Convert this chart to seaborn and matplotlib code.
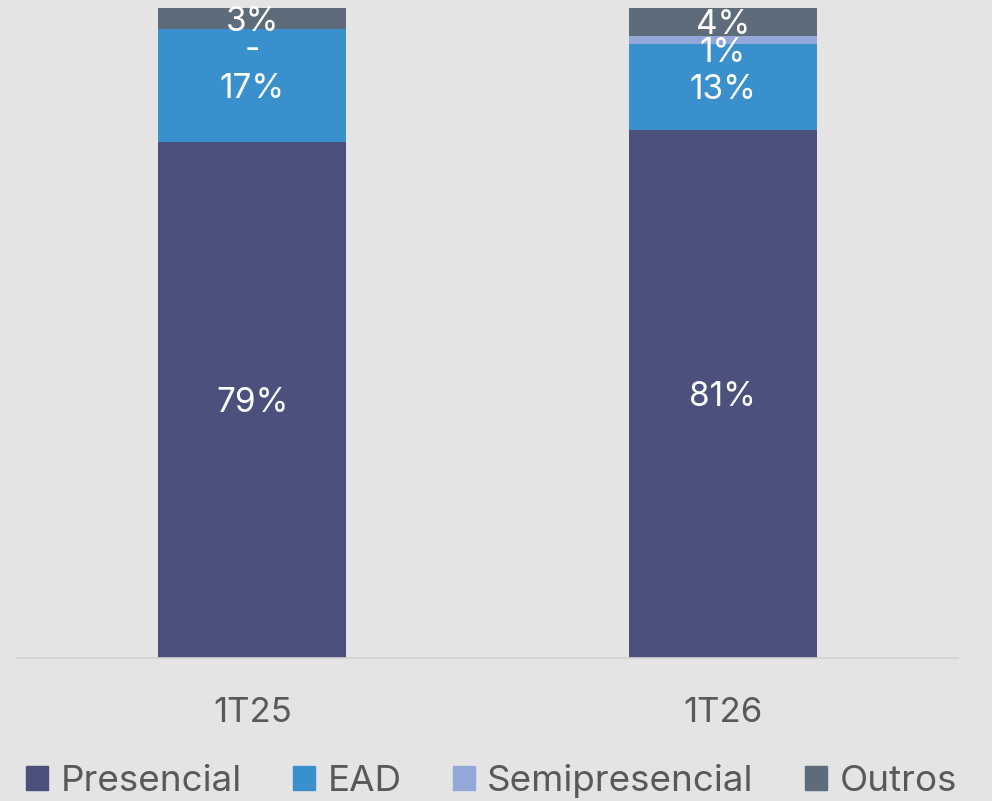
import matplotlib.pyplot as plt
import matplotlib.patches as mpatches
import seaborn as sns
import pandas as pd

periodos = ['1T25', '1T26']
series = ['Presencial', 'EAD', 'Semipresencial', 'Outros']
presencial = [79.4, 81.3]
ead = [17.4, 13.2]
semipresencial = [0.0, 1.2]
outros = [3.2, 4.3]
cores = ['#4B507C', '#3A8FCD', '#93A7D8', '#5D6B7A']

bg = '#e4e4e4'
sns.set_theme(style='white')
plt.rcParams['font.family'] = ['Inter', 'DejaVu Sans']

valores = pd.DataFrame({'Presencial': presencial, 'EAD': ead,
                        'Semipresencial': semipresencial, 'Outros': outros},
                       index=periodos)
acum = valores.cumsum(axis=1)

fig = plt.figure(figsize=(9.92, 8.01), dpi=100, facecolor=bg)
ax = fig.add_axes([17 / 992, 143 / 801, 941 / 992, 650 / 801])
ax.set_facecolor(bg)

# empilhado: desenha do total acumulado maior para o menor
for serie, cor in reversed(list(zip(series, cores))):
    df = pd.DataFrame({'periodo': periodos, 'valor': acum[serie].values})
    sns.barplot(data=df, x='periodo', y='valor', color=cor, width=0.4,
                saturation=1, linewidth=0, ax=ax)

# rótulos - de cima para baixo, afastando os que ficam muito juntos
gap = 4.3
for i, p in enumerate(periodos):
    centros = []
    for serie in series:
        v = valores.loc[p, serie]
        centros.append((acum.loc[p, serie] - v / 2, v))
    limite = None
    for (c, v) in reversed(centros):
        if limite is not None and c > limite - gap:
            c = limite - gap
        limite = c
        txt = f'{round(v)}%' if v > 0 else '-'
        ax.text(i, c - 0.5, txt, ha='center', va='center',
                color='white', fontsize=24)

ax.set_xlim(-0.5, 1.5)
ax.set_ylim(0, 100)
ax.set_yticks([])
ax.set_xlabel('')
ax.set_ylabel('')
sns.despine(ax=ax, left=True)
ax.spines['bottom'].set_color('#d2d2d2')
ax.spines['bottom'].set_linewidth(1.2)
ax.tick_params(axis='x', length=0, pad=28, labelsize=25, labelcolor='#595959')

handles = [mpatches.Patch(color=c, label=s) for s, c in zip(series, cores)]
fig.legend(handles=handles, loc='center', bbox_to_anchor=(0.4955, 1 - 781 / 801),
           ncol=4, frameon=False, fontsize=26.5, labelcolor='#595959',
           handlelength=0.6, handleheight=0.6, handletextpad=0.33,
           columnspacing=1.4)

fig.savefig('out.png', dpi=100, facecolor=bg)
